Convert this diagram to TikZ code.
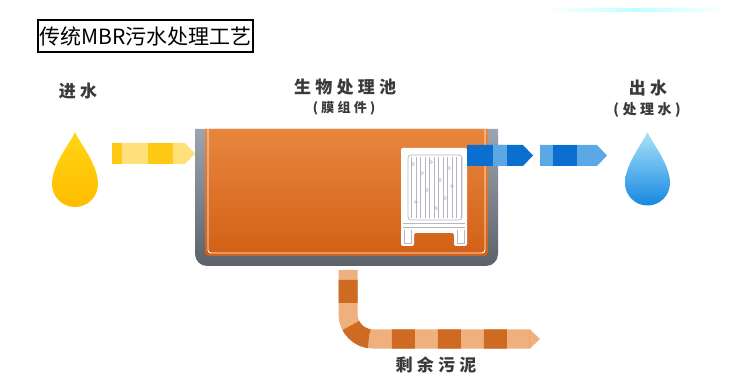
\documentclass[tikz,border=0pt]{standalone}
\usepackage{fontspec}
\setmainfont{Noto Sans CJK SC}
\newfontfamily\labelfont[LetterSpace=25]{Noto Sans CJK SC}

\definecolor{labelgray}{HTML}{3A3A3A}
\definecolor{yelDark}{HTML}{FFC814}
\definecolor{yelLight}{HTML}{FFE07A}
\definecolor{bluDark}{HTML}{0B6FCF}
\definecolor{bluLight}{HTML}{5CA8E6}
\definecolor{pipeDark}{HTML}{CF6A22}
\definecolor{pipeLight}{HTML}{F0B07E}
\definecolor{tankTop}{HTML}{E8863E}
\definecolor{tankBot}{HTML}{D26016}
\definecolor{wallTop}{HTML}{9CA5B0}
\definecolor{wallBot}{HTML}{5C6269}
\definecolor{modLine}{HTML}{B4B8BE}

\tikzset{
	label/.style = {text = labelgray, font = \labelfont\bfseries\fontsize{17}{19}\selectfont},
	sublabel/.style = {text = labelgray, font = \labelfont\bfseries\fontsize{13}{15}\selectfont}
}

\begin{document}
\begin{tikzpicture}[x=1pt,y=1pt]
	\useasboundingbox (0,0) rectangle (729,378);
	\fill[white] (0,0) rectangle (729,378);
	\shade[left color=white, right color=white, middle color=cyan!25] (545,366) rectangle (729,369);

	% title
	\node [draw, line width = 1.6pt, minimum width = 215, minimum height = 32, inner sep = 0pt,
		font = \fontsize{21}{23}\selectfont] (title) at (145.5,342) {传统MBR污水处理工艺};

	% labels
	\node [label] (inlabel) at (78,287) {进水};
	\node [label] (tanklabel) at (345,291) {生物处理池};
	\node [sublabel] (tanksub) at (344,270) {(膜组件)};
	\node [label] (outlabel) at (648,290) {出水};
	\node [sublabel, font = \labelfont\bfseries\fontsize{14}{16}\selectfont] (outsub) at (647,268) {(处理水)};
	\node [label] (sludgelabel) at (436,13) {剩余污泥};

	% water drops
	\shade [top color = {rgb,255:red,255;green,214;blue,20}, bottom color = {rgb,255:red,255;green,188;blue,0}]
		(75,246) .. controls (79,236) and (98,214) .. (98,194)
		arc [start angle = 0, end angle = -180, radius = 23pt]
		.. controls (52,214) and (71,236) .. (75,246) -- cycle;
	\shade [top color = {rgb,255:red,170;green,226;blue,250}, bottom color = {rgb,255:red,22;green,136;blue,224}]
		(647.5,246) .. controls (651.5,236) and (670,214) .. (670,195)
		arc [start angle = 0, end angle = -180, radius = 22.5pt]
		.. controls (625,214) and (643.5,236) .. (647.5,246) -- cycle;

	% inflow arrow
	\fill [yelLight] (112,214) -- (185,214) -- (195,224.5) -- (185,235) -- (112,235) -- cycle;
	\fill [yelDark] (112,214) rectangle (122,235);
	\fill [yelDark] (148,214) rectangle (173,235);

	% tank wall and sludge
	\shade [top color = wallTop, bottom color = wallBot]
		(195,249) -- (195,124) arc [start angle = 180, end angle = 270, radius = 12pt]
		-- (486,112) arc [start angle = 270, end angle = 360, radius = 12pt] -- (498,249) -- cycle;
	\shade [top color = tankTop, bottom color = tankBot]
		(205,249) -- (205,126) arc [start angle = 180, end angle = 270, radius = 4pt]
		-- (484,122) arc [start angle = 270, end angle = 360, radius = 4pt] -- (488,249) -- cycle;
	\draw [white, line width = 0.9pt]
		(208,249) -- (208,128) arc [start angle = 180, end angle = 270, radius = 3pt]
		-- (482,125) arc [start angle = 270, end angle = 360, radius = 3pt] -- (485,249);

	% membrane module
	\fill [white, rounded corners = 2pt] (401,230) -- (467,230) -- (467,132) -- (454,132) -- (454,145)
		-- (414,145) -- (414,132) -- (401,132) -- cycle;
	\draw [modLine, line width = 0.7pt, rounded corners = 3pt] (408,223) rectangle (462,158);
	\foreach \x in {410,419,...,455} {
		\draw [modLine, line width = 0.6pt] (\x+1,221) -- (\x+1,160);
		\draw [modLine, line width = 0.6pt] (\x+6,221) -- (\x+6,160);
	}
	\foreach \x/\y in {413/214, 422/205, 431/216, 440/198, 449/210, 427/188, 445/180, 416/176, 436/170, 452/192}
		\draw [modLine, line width = 0.5pt] (\x,\y) circle (1.6pt);
	\draw [modLine, line width = 0.7pt] (403,155) -- (465,155);
	\draw [modLine, line width = 0.7pt] (403,151) -- (465,151);
	\draw [modLine, line width = 0.6pt] (404,148) -- (404,135) -- (411,135) -- (411,148);
	\draw [modLine, line width = 0.6pt] (457,148) -- (457,135) -- (464,135) -- (464,148);

	% outflow arrows
	\fill [bluDark] (467,212) -- (523,212) -- (533,222.5) -- (523,233) -- (467,233) -- cycle;
	\fill [bluLight] (493,212) rectangle (507,233);
	\fill [bluLight] (540,212) -- (597,212) -- (607,222.5) -- (597,233) -- (540,233) -- cycle;
	\fill [bluDark] (553,212) rectangle (577,233);

	% sludge pipe
	\draw [pipeLight, line width = 19pt] (348,108) -- (348,64)
		arc [start angle = 180, end angle = 270, radius = 25pt] -- (530,39);
	\draw [pipeDark, line width = 19pt, dash pattern = on 23pt off 23pt, dash phase = 36pt] (348,108) -- (348,64)
		arc [start angle = 180, end angle = 270, radius = 25pt] -- (530,39);
	\fill [pipeLight] (530,48.5) -- (540,39) -- (530,29.5) -- cycle;
\end{tikzpicture}
\end{document}
